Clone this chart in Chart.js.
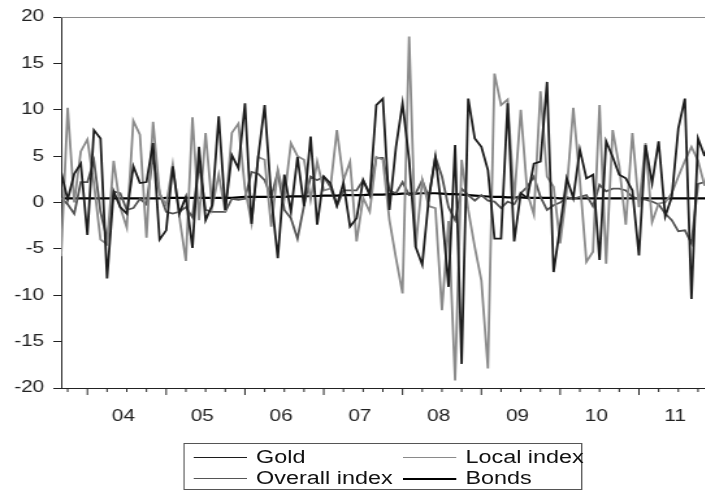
<!DOCTYPE html>
<html>
<head>
<meta charset="utf-8">
<script src="https://cdn.jsdelivr.net/npm/chart.js@4.4.1/dist/chart.umd.min.js"></script>
<style>
  html, body { margin: 0; padding: 0; background: #fff; overflow: hidden; }
  /* the reference is stretched sideways, so the whole figure is drawn narrow and scaled */
  #wrap { position: absolute; left: 0; top: 0; width: 542px; height: 491px;
          transform: scaleX(1.3); transform-origin: 0 0; }
  #legend { position: absolute; left: 141px; top: 443px; width: 307px; height: 47px;
            box-sizing: border-box; border: 1px solid #555; background: #fff;
            font: 18px "Liberation Sans", Arial, sans-serif; color: #111; }
  .item { position: absolute; height: 20px; line-height: 20px; white-space: nowrap; }
  .item i { position: absolute; left: 0; top: 10px; width: 41px; }
  .item span { position: absolute; left: 48px; top: 0; }
</style>
</head>
<body>
<div id="wrap">
  <canvas id="chart" width="542" height="491"></canvas>
  <div id="legend"></div>
</div>
<script>
// ---------- data (monthly, Sep 2003 .. Nov 2011) ----------
const START_YEAR = 2003, START_MONTH = 9;
const yearLabels = ['04', '05', '06', '07', '08', '09', '10', '11'];

const gold = [
  3.3, 0.3, 3.1, 4.2, -3.5, 7.8, 6.9, -8.2, 1.2, -0.5,
  -1.2, 3.9, 2.1, 2.2, 6.4, -4.0, -3.0, 3.9, -1.2, 0.6,
  -4.9, 6.0, -1.9, -0.3, 9.3, -0.8, 5.1, 3.7, 10.7, -2.3,
  4.8, 10.5, 0.6, -6.0, 3.0, -1.0, 4.9, -0.4, 7.1, -2.4,
  2.8, 2.1, -0.3, 2.1, -2.6, -1.7, 2.4, 0.8, 10.5, 11.2,
  -0.8, 6.0, 10.7, 4.6, -4.8, -6.7, 0.5, 4.9, -1.0, -9.1,
  6.2, -17.4, 11.2, 6.9, 6.0, 3.5, -3.9, -3.9, 10.7, -4.2,
  1.0, 0.5, 4.2, 4.4, 13.0, -7.5, -2.6, 2.6, 0.5, 5.7,
  2.6, 3.0, -6.2, 6.6, 4.9, 3.0, 2.6, 1.3, -5.7, 6.2,
  2.1, 6.6, -1.5, 0.6, 8.0, 11.2, -10.4, 6.9, 5.0
];
const localIndex = [
  -5.8, 10.2, 0.0, 5.5, 6.8, 2.0, -4.0, -4.5, 4.5, -0.5,
  -2.7, 8.8, 7.3, -3.8, 8.7, 1.0, -0.3, 4.1, -1.5, -6.3,
  9.2, -1.9, 7.5, -0.5, 3.0, -1.0, 7.5, 8.5, 1.5, -2.2,
  4.9, 4.6, -2.6, 3.5, 0.5, 6.4, 5.0, 4.6, 0.3, 4.4,
  1.3, 1.5, 7.8, 2.4, 4.4, -4.2, 0.5, -1.0, 4.9, 4.6,
  -1.9, -6.0, -9.8, 17.9, -4.8, 2.4, -0.4, -0.6, -11.6, -2.0,
  -19.2, 4.6, -0.8, -4.8, -8.4, -17.9, 13.9, 10.5, 11.1, 0.3,
  10.0, 1.0, -1.3, 12.0, 2.8, 1.7, -4.4, 1.3, 10.2, 2.4,
  -6.4, -5.3, 10.5, -6.6, 7.8, 3.9, -2.4, 7.5, -0.5, 6.4,
  -2.1, -0.1, 0.0, 1.0, 2.8, 4.5, 6.0, 4.5, 1.8
];
const overallIndex = [
  0.5, -0.2, -1.2, 2.2, 2.2, 4.5, -1.0, -4.0, 1.2, 1.0,
  -0.8, -0.6, 0.4, -0.2, 5.0, 1.0, -1.0, -1.2, -1.0, -0.5,
  -1.6, 4.2, -0.8, -1.0, -1.0, -1.0, 0.4, 0.3, 0.4, 3.3,
  3.1, 2.4, 0.6, 3.3, -0.8, -1.7, -3.9, -0.3, 2.8, 2.4,
  2.8, 1.7, -0.4, 1.3, 1.3, 1.3, 2.4, 1.0, 4.8, 4.8,
  1.3, 1.0, 2.2, 0.8, 1.0, 2.4, 0.5, 4.9, 2.8, -0.5,
  -1.9, 1.5, 0.8, 0.2, 0.8, 0.2, 0.1, -0.6, 0.1, -0.2,
  1.0, 1.7, 2.8, 0.6, -0.8, -0.3, 0.0, 0.6, 0.4, 0.6,
  0.8, -0.4, 1.9, 1.2, 1.5, 1.5, 1.3, 0.6, 0.4, 0.3,
  0.1, -0.2, -1.2, -1.9, -3.1, -3.0, -4.4, 2.0, 2.2
];
const bonds = [
  0.45, 0.45, 0.45, 0.45, 0.45, 0.45, 0.45, 0.45, 0.45, 0.45,
  0.45, 0.45, 0.45, 0.45, 0.45, 0.45, 0.5, 0.5, 0.5, 0.5,
  0.5, 0.5, 0.5, 0.5, 0.5, 0.5, 0.5, 0.55, 0.6, 0.6,
  0.6, 0.6, 0.6, 0.6, 0.6, 0.65, 0.65, 0.65, 0.7, 0.7,
  0.75, 0.75, 0.75, 0.8, 0.8, 0.8, 0.8, 0.85, 0.85, 0.85,
  0.9, 0.9, 0.95, 0.95, 0.95, 1.0, 1.0, 1.0, 0.95, 0.9,
  0.9, 0.85, 0.8, 0.75, 0.7, 0.65, 0.6, 0.6, 0.55, 0.55,
  0.55, 0.5, 0.5, 0.5, 0.5, 0.5, 0.45, 0.45, 0.45, 0.45,
  0.45, 0.45, 0.45, 0.45, 0.45, 0.45, 0.45, 0.45, 0.45, 0.45,
  0.45, 0.45, 0.45, 0.45, 0.45, 0.45, 0.45, 0.45, 0.45
];

const series = [
  { label: 'Gold',          data: gold,         color: '#1c1c1c', width: 1.8 },
  { label: 'Local index',   data: localIndex,   color: '#8a8a8a', width: 1.8 },
  { label: 'Overall index', data: overallIndex, color: '#555555', width: 1.8 },
  { label: 'Bonds',         data: bonds,        color: '#000000', width: 2.2 }
];

// month index -> 'YYYY-MM', used only as point labels
const months = gold.map((_, i) => {
  const m = START_MONTH - 1 + i;
  return (START_YEAR + Math.floor(m / 12)) + '-' + String(m % 12 + 1).padStart(2, '0');
});

// ---------- frame: grey top line + quarterly ticks on the date axis ----------
const frame = {
  id: 'frame',
  afterDraw(chart) {
    const { ctx, chartArea: a, scales: { x } } = chart;
    ctx.save();
    ctx.strokeStyle = '#8a8a8a';
    ctx.lineWidth = 1.2;
    ctx.beginPath();
    ctx.moveTo(a.left, a.top + 0.5);
    ctx.lineTo(a.right, a.top + 0.5);
    ctx.stroke();

    ctx.strokeStyle = '#222';
    ctx.lineWidth = 1;
    ctx.beginPath();
    months.forEach((lbl, i) => {
      const mon = +lbl.slice(5);
      if ((mon - 1) % 3 !== 0) return;
      const px = x.getPixelForValue(i);
      const len = mon === 1 ? 7 : 4;
      ctx.moveTo(px, a.bottom);
      ctx.lineTo(px, a.bottom + len);
    });
    ctx.stroke();
    ctx.restore();
  }
};

// ---------- chart ----------
const FONT = { family: '"Liberation Sans", Arial, sans-serif', size: 16 };

new Chart(document.getElementById('chart'), {
  type: 'line',
  data: {
    datasets: series.map(s => ({
      label: s.label,
      data: s.data.map((v, i) => ({ x: i, y: v })),
      borderColor: s.color,
      borderWidth: s.width,
      pointRadius: 0,
      tension: 0,
      fill: false
    }))
  },
  options: {
    responsive: false,
    animation: false,
    events: [],
    layout: { padding: { left: 0, right: 0, top: 17, bottom: 63 } },
    plugins: { legend: { display: false }, tooltip: { enabled: false } },
    scales: {
      x: {
        type: 'linear',
        min: 0,
        max: months.length - 1,
        grid: { display: false },
        border: { display: true, color: '#222', width: 1 },
        afterBuildTicks: s => { s.ticks = yearLabels.map((_, k) => ({ value: 9.5 + 12 * k })); },
        afterFit: s => { s.height = 40; },
        ticks: {
          autoSkip: false, maxRotation: 0, padding: 11,
          color: '#222', font: FONT,
          callback: (v, idx) => yearLabels[idx]
        }
      },
      y: {
        min: -20,
        max: 20,
        afterFit: s => { s.width = 47; },
        grid: { drawOnChartArea: false, drawTicks: true, tickLength: 6, color: '#222' },
        border: { display: true, color: '#222', width: 1 },
        ticks: { stepSize: 5, padding: 7, color: '#222', font: FONT }
      }
    }
  },
  plugins: [frame]
});

// ---------- legend (two columns in a box) ----------
const legend = document.getElementById('legend');
const spots = [[7, 3], [168, 3], [7, 24], [168, 24]];
series.forEach((s, k) => {
  const it = document.createElement('div');
  it.className = 'item';
  it.style.left = spots[k][0] + 'px';
  it.style.top = spots[k][1] + 'px';
  it.innerHTML = '<i style="border-top:' + Math.min(s.width, 2) + 'px solid ' + s.color + '"></i><span>' + s.label + '</span>';
  legend.appendChild(it);
});
</script>
</body>
</html>
